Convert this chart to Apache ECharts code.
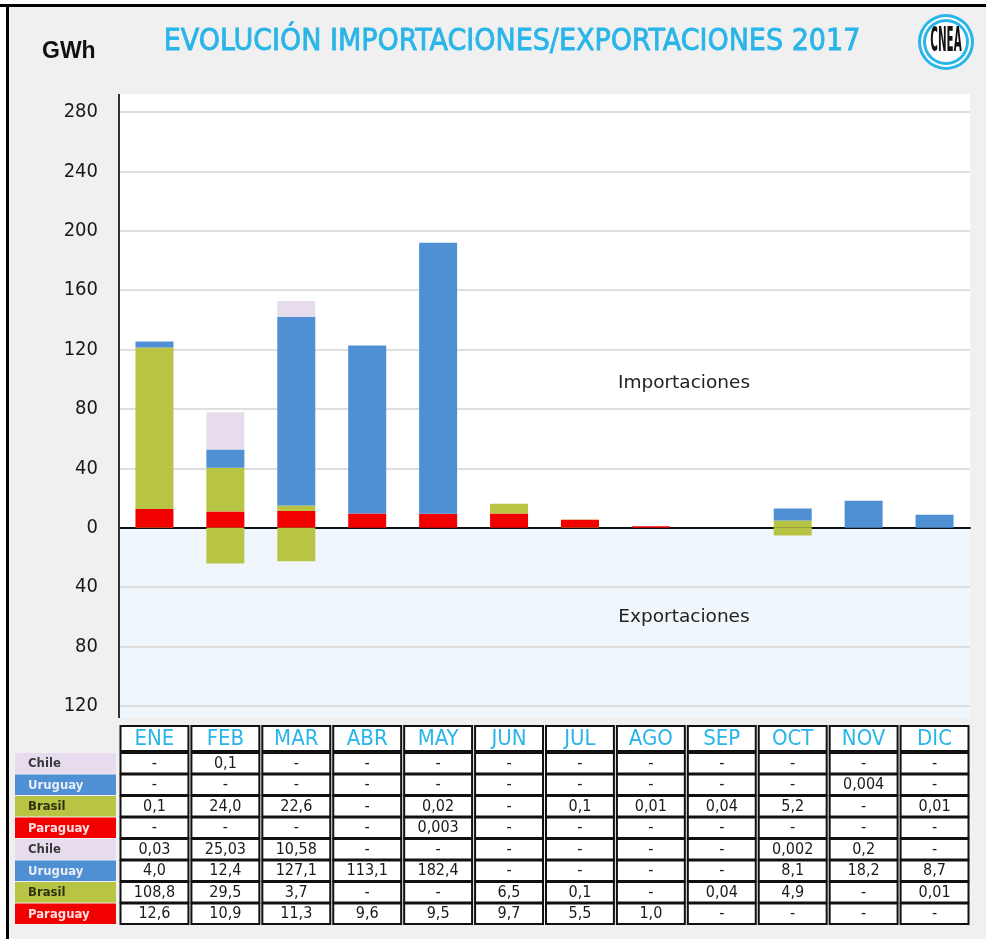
<!DOCTYPE html>
<html>
<head>
<meta charset="utf-8">
<script src="https://cdn.jsdelivr.net/npm/echarts@6/dist/echarts.min.js"></script>
<style>
  html, body { margin: 0; padding: 0; background: #ffffff; }
  #chart { width: 986px; height: 939px; }
</style>
</head>
<body>
<div id="chart"></div>
<script>
// Months (columns of the table and categories of the bars)
const months = ['ENE', 'FEB', 'MAR', 'ABR', 'MAY', 'JUN', 'JUL', 'AGO', 'SEP', 'OCT', 'NOV', 'DIC'];

// Exportaciones (GWh), as printed in the table
const expChile    = ['-', '0,1', '-', '-', '-', '-', '-', '-', '-', '-', '-', '-'];
const expUruguay  = ['-', '-', '-', '-', '-', '-', '-', '-', '-', '-', '0,004', '-'];
const expBrasil   = ['0,1', '24,0', '22,6', '-', '0,02', '-', '0,1', '0,01', '0,04', '5,2', '-', '0,01'];
const expParaguay = ['-', '-', '-', '-', '0,003', '-', '-', '-', '-', '-', '-', '-'];

// Importaciones (GWh)
const impChile    = ['0,03', '25,03', '10,58', '-', '-', '-', '-', '-', '-', '0,002', '0,2', '-'];
const impUruguay  = ['4,0', '12,4', '127,1', '113,1', '182,4', '-', '-', '-', '-', '8,1', '18,2', '8,7'];
const impBrasil   = ['108,8', '29,5', '3,7', '-', '-', '6,5', '0,1', '-', '0,04', '4,9', '-', '0,01'];
const impParaguay = ['12,6', '10,9', '11,3', '9,6', '9,5', '9,7', '5,5', '1,0', '-', '-', '-', '-'];

// Y axis ticks (exports are drawn below zero)
const yTicks = [-120, -80, -40, 0, 40, 80, 120, 160, 200, 240, 280];

const countryColor = {
  Chile: '#e6dcee',
  Uruguay: '#4f8fd4',
  Brasil: '#b8c444',
  Paraguay: '#f20000'
};
const countryText = {
  Chile: '#3a3a3a',
  Uruguay: '#e9eef5',
  Brasil: '#2f3310',
  Paraguay: '#ffe0e0'
};

const toNum = s => (s === '-' ? null : parseFloat(s.replace(',', '.')));

// Layout
const W = 986, H = 939;
const gridLeft = 119, gridRightX = 970;
const gridTop = 112, gridBottomY = 706;
const yMin = yTicks[0], yMax = yTicks[yTicks.length - 1];
const pxPerUnit = (gridBottomY - gridTop) / (yMax - yMin);
const zeroY = gridTop + yMax * pxPerUnit;
const plotTopY = 94, plotBottomY = 718;
const bandW = (gridRightX - gridLeft) / months.length;

const chart = echarts.init(document.getElementById('chart'), null, { renderer: 'canvas' });

const stackOrder = ['Paraguay', 'Brasil', 'Uruguay', 'Chile'];
const impData = { Chile: impChile, Uruguay: impUruguay, Brasil: impBrasil, Paraguay: impParaguay };
const expData = { Chile: expChile, Uruguay: expUruguay, Brasil: expBrasil, Paraguay: expParaguay };

const series = [];
stackOrder.forEach(name => {
  series.push({
    name: name + ' imp',
    type: 'bar',
    stack: 'total',
    barWidth: 38,
    itemStyle: { color: countryColor[name] },
    data: impData[name].map(toNum)
  });
});
stackOrder.forEach(name => {
  series.push({
    name: name + ' exp',
    type: 'bar',
    stack: 'total',
    barWidth: 38,
    itemStyle: { color: countryColor[name] },
    data: expData[name].map(s => { const v = toNum(s); return v === null ? null : -v; })
  });
});

// Background, frame, title and logo
const graphics = [];
graphics.push({ type: 'rect', z: -10, shape: { x: 0, y: 0, width: W, height: H }, style: { fill: '#ffffff' }, silent: true });
graphics.push({ type: 'rect', z: -9, shape: { x: 8, y: 6, width: W - 8, height: H - 6 }, style: { fill: '#f0f0f0' }, silent: true });
graphics.push({ type: 'rect', z: -8, shape: { x: 0, y: 4, width: W, height: 3 }, style: { fill: '#000000' }, silent: true });
graphics.push({ type: 'rect', z: -8, shape: { x: 6, y: 4, width: 3, height: H - 4 }, style: { fill: '#000000' }, silent: true });
// plot area backgrounds
graphics.push({ type: 'rect', z: -7, shape: { x: gridLeft, y: plotTopY, width: gridRightX - gridLeft, height: zeroY - plotTopY }, style: { fill: '#ffffff' }, silent: true });
graphics.push({ type: 'rect', z: -7, shape: { x: gridLeft, y: zeroY, width: gridRightX - gridLeft, height: plotBottomY - zeroY }, style: { fill: '#eff7fd' }, silent: true });
// vertical axis line
graphics.push({ type: 'line', z: 50, shape: { x1: gridLeft, y1: plotTopY, x2: gridLeft, y2: plotBottomY }, style: { stroke: '#333333', lineWidth: 2 }, silent: true });

graphics.push({
  type: 'text', x: 42, y: 52, z: 10,
  style: { text: 'GWh', font: 'bold 23px "Liberation Sans", sans-serif', fill: '#111111', verticalAlign: 'middle' }
});
graphics.push({
  type: 'text', z: 10,
  x: 512, y: 42,
  style: {
    text: 'EVOLUCIÓN IMPORTACIONES/EXPORTACIONES 2017',
    font: '30px "Liberation Sans Narrow", "DejaVu Sans Condensed", sans-serif',
    fill: '#29b5e8', stroke: '#29b5e8', lineWidth: 0.8,
    align: 'center', verticalAlign: 'middle'
  }
});
// logo
const lx = 946, ly = 42;
graphics.push({ type: 'circle', z: 10, shape: { cx: lx, cy: ly, r: 28 }, style: { fill: '#29b5e8' }, silent: true });
graphics.push({ type: 'circle', z: 11, shape: { cx: lx, cy: ly, r: 25 }, style: { fill: '#ffffff' }, silent: true });
graphics.push({ type: 'circle', z: 12, shape: { cx: lx, cy: ly, r: 23 }, style: { fill: '#29b5e8' }, silent: true });
graphics.push({ type: 'circle', z: 13, shape: { cx: lx, cy: ly, r: 20 }, style: { fill: '#ffffff' }, silent: true });
graphics.push({
  type: 'text', z: 14, x: lx, y: ly, scaleX: 0.72, scaleY: 2.1,
  style: { text: 'CNEA', font: 'bold 16px "DejaVu Sans Condensed", sans-serif', fill: '#111111', align: 'center', verticalAlign: 'middle' }
});

// in-plot captions
graphics.push({
  type: 'text', z: 20, x: 684, y: 383,
  style: { text: 'Importaciones', font: '18.5px "DejaVu Sans", sans-serif', fill: '#222222', align: 'center', verticalAlign: 'middle' }
});
graphics.push({
  type: 'text', z: 20, x: 684, y: 617,
  style: { text: 'Exportaciones', font: '18.5px "DejaVu Sans", sans-serif', fill: '#222222', align: 'center', verticalAlign: 'middle' }
});

// Data table
const headerTop = 726, headerH = 25;
const rowTop = 753, rowH = 21.5;
months.forEach((m, i) => {
  const x0 = gridLeft + i * bandW;
  graphics.push({
    type: 'rect', z: 20,
    shape: { x: x0 + 1.5, y: headerTop, width: bandW - 3, height: headerH },
    style: { fill: '#ffffff', stroke: '#111111', lineWidth: 2 }, silent: true
  });
  graphics.push({
    type: 'text', z: 21, x: x0 + bandW / 2, y: headerTop + headerH / 2 + 1,
    style: { text: m, font: '22px "DejaVu Sans Condensed", sans-serif', fill: '#29b5e8', align: 'center', verticalAlign: 'middle' }
  });
});

const tableRows = [
  ['Chile', expChile], ['Uruguay', expUruguay], ['Brasil', expBrasil], ['Paraguay', expParaguay],
  ['Chile', impChile], ['Uruguay', impUruguay], ['Brasil', impBrasil], ['Paraguay', impParaguay]
];
tableRows.forEach(([name, vals], r) => {
  const y0 = rowTop + r * rowH;
  graphics.push({
    type: 'rect', z: 20,
    shape: { x: 15, y: y0, width: 101, height: rowH - 1 },
    style: { fill: countryColor[name] }, silent: true
  });
  graphics.push({
    type: 'text', z: 21, x: 28, y: y0 + rowH / 2,
    style: { text: name, font: 'bold 13px "DejaVu Sans Condensed", sans-serif', fill: countryText[name], align: 'left', verticalAlign: 'middle' }
  });
  vals.forEach((v, i) => {
    const x0 = gridLeft + i * bandW;
    graphics.push({
      type: 'rect', z: 20,
      shape: { x: x0 + 1.5, y: y0, width: bandW - 3, height: rowH - 1 },
      style: { fill: '#ffffff', stroke: '#111111', lineWidth: 2 }, silent: true
    });
    graphics.push({
      type: 'text', z: 21, x: x0 + bandW / 2, y: y0 + rowH / 2,
      style: { text: v, font: '16px "DejaVu Sans Condensed", sans-serif', fill: '#1a1a1a', align: 'center', verticalAlign: 'middle' }
    });
  });
});

const option = {
  animation: false,
  backgroundColor: 'transparent',
  grid: { left: gridLeft, right: W - gridRightX, top: gridTop, bottom: H - gridBottomY, containLabel: false },
  xAxis: {
    type: 'category',
    data: months,
    axisLine: { onZero: true, lineStyle: { color: '#111111', width: 2 } },
    axisTick: { show: false },
    axisLabel: { show: false },
    splitLine: { show: false }
  },
  yAxis: {
    type: 'value',
    min: yMin, max: yMax, interval: 40,
    axisLine: { show: false },
    axisTick: { show: false },
    axisLabel: {
      formatter: v => String(Math.abs(v)),
      color: '#1a1a1a', fontSize: 20, margin: 21,
      fontFamily: '"DejaVu Sans Condensed", sans-serif'
    },
    splitLine: { lineStyle: { color: '#dedede', width: 2 } }
  },
  series: series,
  graphic: graphics
};

chart.setOption(option);
</script>
</body>
</html>
